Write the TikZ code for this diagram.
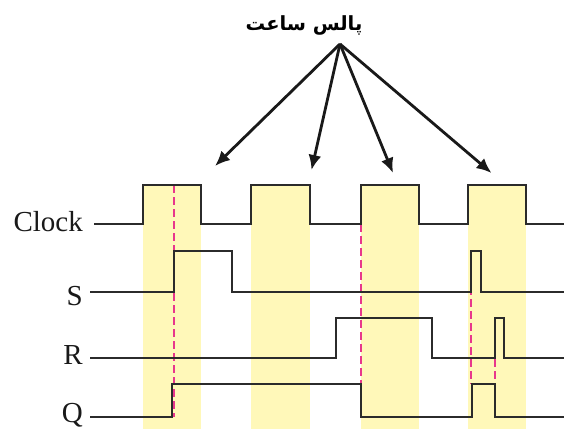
\documentclass[tikz,border=0pt]{standalone}
\usepackage{fontspec}
\setmainfont{Liberation Serif}
\newfontfamily\arabicfont[Script=Arabic]{DejaVu Sans}
\TeXXeTstate=1
\usetikzlibrary{arrows.meta}
\definecolor{bandyellow}{HTML}{FFF8B9}
\definecolor{pinkdash}{HTML}{E8378C}
\definecolor{sigline}{HTML}{2B2B2B}
\tikzset{
  band/.style={fill=bandyellow,draw=none},
  sig/.style={draw=sigline,line width=1.6pt,line join=miter},
  pdash/.style={draw=pinkdash,line width=1.8pt,dash pattern=on 8pt off 4pt},
  ptr/.style={draw=black!90,line width=2.8pt,-{Latex[length=15pt,width=13pt]}},
  lab/.style={font=\fontsize{29}{29}\selectfont,inner sep=0pt,anchor=base east,text=black!90},
}
\begin{document}
\begin{tikzpicture}[x=1pt,y=-1pt]
\useasboundingbox (0,0) rectangle (564,429);
% yellow bands
\fill[band] (143,185) rectangle (201,429);
\fill[band] (251,185) rectangle (310,429);
\fill[band] (361,185) rectangle (419,429);
\fill[band] (468,185) rectangle (526,429);
% dashed markers
\draw[pdash] (174,185) -- (174,417);
\draw[pdash] (361,224) -- (361,384);
\draw[pdash] (471,287) -- (471,384);
\draw[pdash] (495,359) -- (495,384);
% waveforms
\draw[sig] (94,224) -- (143,224) -- (143,185) -- (201,185) -- (201,224) -- (251,224) -- (251,185) -- (310,185) -- (310,224) -- (361,224) -- (361,185) -- (419,185) -- (419,224) -- (468,224) -- (468,185) -- (526,185) -- (526,224) -- (564,224);
\draw[sig] (90,292) -- (174,292) -- (174,251) -- (232,251) -- (232,292) -- (471,292) -- (471,251) -- (481,251) -- (481,292) -- (564,292);
\draw[sig] (90,358) -- (336,358) -- (336,318) -- (432,318) -- (432,358) -- (495,358) -- (495,318) -- (504,318) -- (504,358) -- (564,358);
\draw[sig] (90,417) -- (172,417) -- (172,384) -- (361,384) -- (361,417) -- (472,417) -- (472,384) -- (495,384) -- (495,417) -- (564,417);
% labels
\node[lab] (clk) at (83,231) {Clock};
\node[lab] (s) at (83,305) {S};
\node[lab] (r) at (83,364) {R};
\node[lab] (q) at (83,422) {Q};
% title and pointers
\node[inner sep=0pt,anchor=base] (title) at (304,30) {\arabicfont\bfseries\fontsize{19.5}{19.5}\selectfont\beginR پالس ساعت\endR};
\coordinate (apex) at (340,44);
\coordinate (t1) at (215,166);
\coordinate (t2) at (311.5,170);
\coordinate (t3) at (393,173);
\coordinate (t4) at (491.5,173);
\draw[ptr] (apex) -- (t1);
\draw[ptr] (apex) -- (t2);
\draw[ptr] (apex) -- (t3);
\draw[ptr] (apex) -- (t4);
\end{tikzpicture}
\end{document}
